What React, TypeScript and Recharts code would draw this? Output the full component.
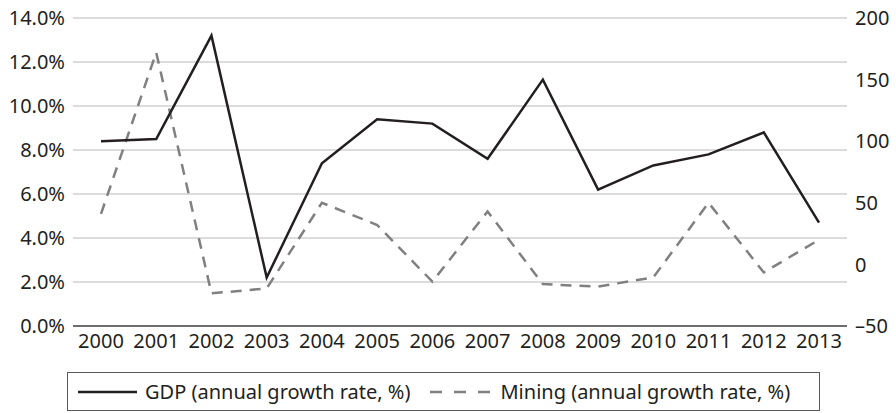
import React from "react";
import { LineChart, Line, XAxis, YAxis, CartesianGrid } from "recharts";

const years = ["2000", "2001", "2002", "2003", "2004", "2005", "2006", "2007", "2008", "2009", "2010", "2011", "2012", "2013"];
const gdpGrowth = [8.4, 8.5, 13.2, 2.2, 7.4, 9.4, 9.2, 7.6, 11.2, 6.2, 7.3, 7.8, 8.8, 4.7];
const miningGrowth = [41, 172, -23.5, -19.5, 50, 32, -14, 43, -16, -18, -10.5, 50, -6.5, 20];
const leftTicks = [0, 2, 4, 6, 8, 10, 12, 14];
const rightTicks = [-50, 0, 50, 100, 150, 200];
const gdpLabel = "GDP (annual growth rate, %)";
const miningLabel = "Mining (annual growth rate, %)";

const data = years.map((y, i) => ({ year: y, gdp: gdpGrowth[i], mining: miningGrowth[i] }));

const FONT = "'Noto Sans', 'Open Sans', sans-serif";
const TEXT = "#231f20";
const tickStyle = { fontSize: 20, fill: TEXT, fontFamily: FONT };

export default function App() {
  return (
    <div style={{ position: "absolute", left: 0, top: 0, width: 896, height: 413, background: "#fff", fontFamily: FONT }}>
      <LineChart width={896} height={413} data={data} margin={{ top: 18, right: 0, left: 0, bottom: 57 }}>
        <CartesianGrid vertical={false} yAxisId="left" stroke="#d0d0d0" strokeWidth={1.5} />
        <XAxis
          dataKey="year"
          interval={0}
          tickLine={false}
          axisLine={{ stroke: "#6d6d6d", strokeWidth: 2 }}
          tick={tickStyle}
          padding={{ left: 28, right: 28 }}
          height={30}
        />
        <YAxis
          yAxisId="left"
          orientation="left"
          width={73}
          domain={[0, 14]}
          ticks={leftTicks}
          interval={0}
          tickLine={false}
          axisLine={false}
          tick={tickStyle}
          tickFormatter={(v: number) => `${v.toFixed(1)}%`}
        />
        <YAxis
          yAxisId="right"
          orientation="right"
          width={49}
          domain={[-50, 200]}
          ticks={rightTicks}
          interval={0}
          tickLine={false}
          axisLine={false}
          tick={{ ...tickStyle, textAnchor: "start" }}
          tickFormatter={(v: number) => (v < 0 ? `\u2013${Math.abs(v)}` : `${v}`)}
        />
        <Line
          yAxisId="right"
          type="linear"
          dataKey="mining"
          stroke="#808080"
          strokeWidth={2.5}
          strokeDasharray="11 8"
          dot={false}
          isAnimationActive={false}
        />
        <Line
          yAxisId="left"
          type="linear"
          dataKey="gdp"
          stroke={TEXT}
          strokeWidth={2.5}
          dot={false}
          isAnimationActive={false}
        />
      </LineChart>
      <div
        style={{
          position: "absolute",
          left: 67,
          top: 372,
          width: 753,
          height: 39,
          border: "1.5px solid #5a5a5a",
          boxSizing: "border-box",
          display: "flex",
          alignItems: "center",
          paddingLeft: 10,
          fontSize: 20,
          color: TEXT,
          whiteSpace: "nowrap",
        }}
      >
        <svg width={59} height={4} style={{ marginRight: 8 }}>
          <line x1={0} y1={2} x2={59} y2={2} stroke={TEXT} strokeWidth={2.5} />
        </svg>
        <span>{gdpLabel}</span>
        <svg width={60} height={4} style={{ marginLeft: 20, marginRight: 10 }}>
          <line x1={0} y1={2} x2={60} y2={2} stroke="#808080" strokeWidth={2.5} strokeDasharray="12 12" />
        </svg>
        <span>{miningLabel}</span>
      </div>
    </div>
  );
}
